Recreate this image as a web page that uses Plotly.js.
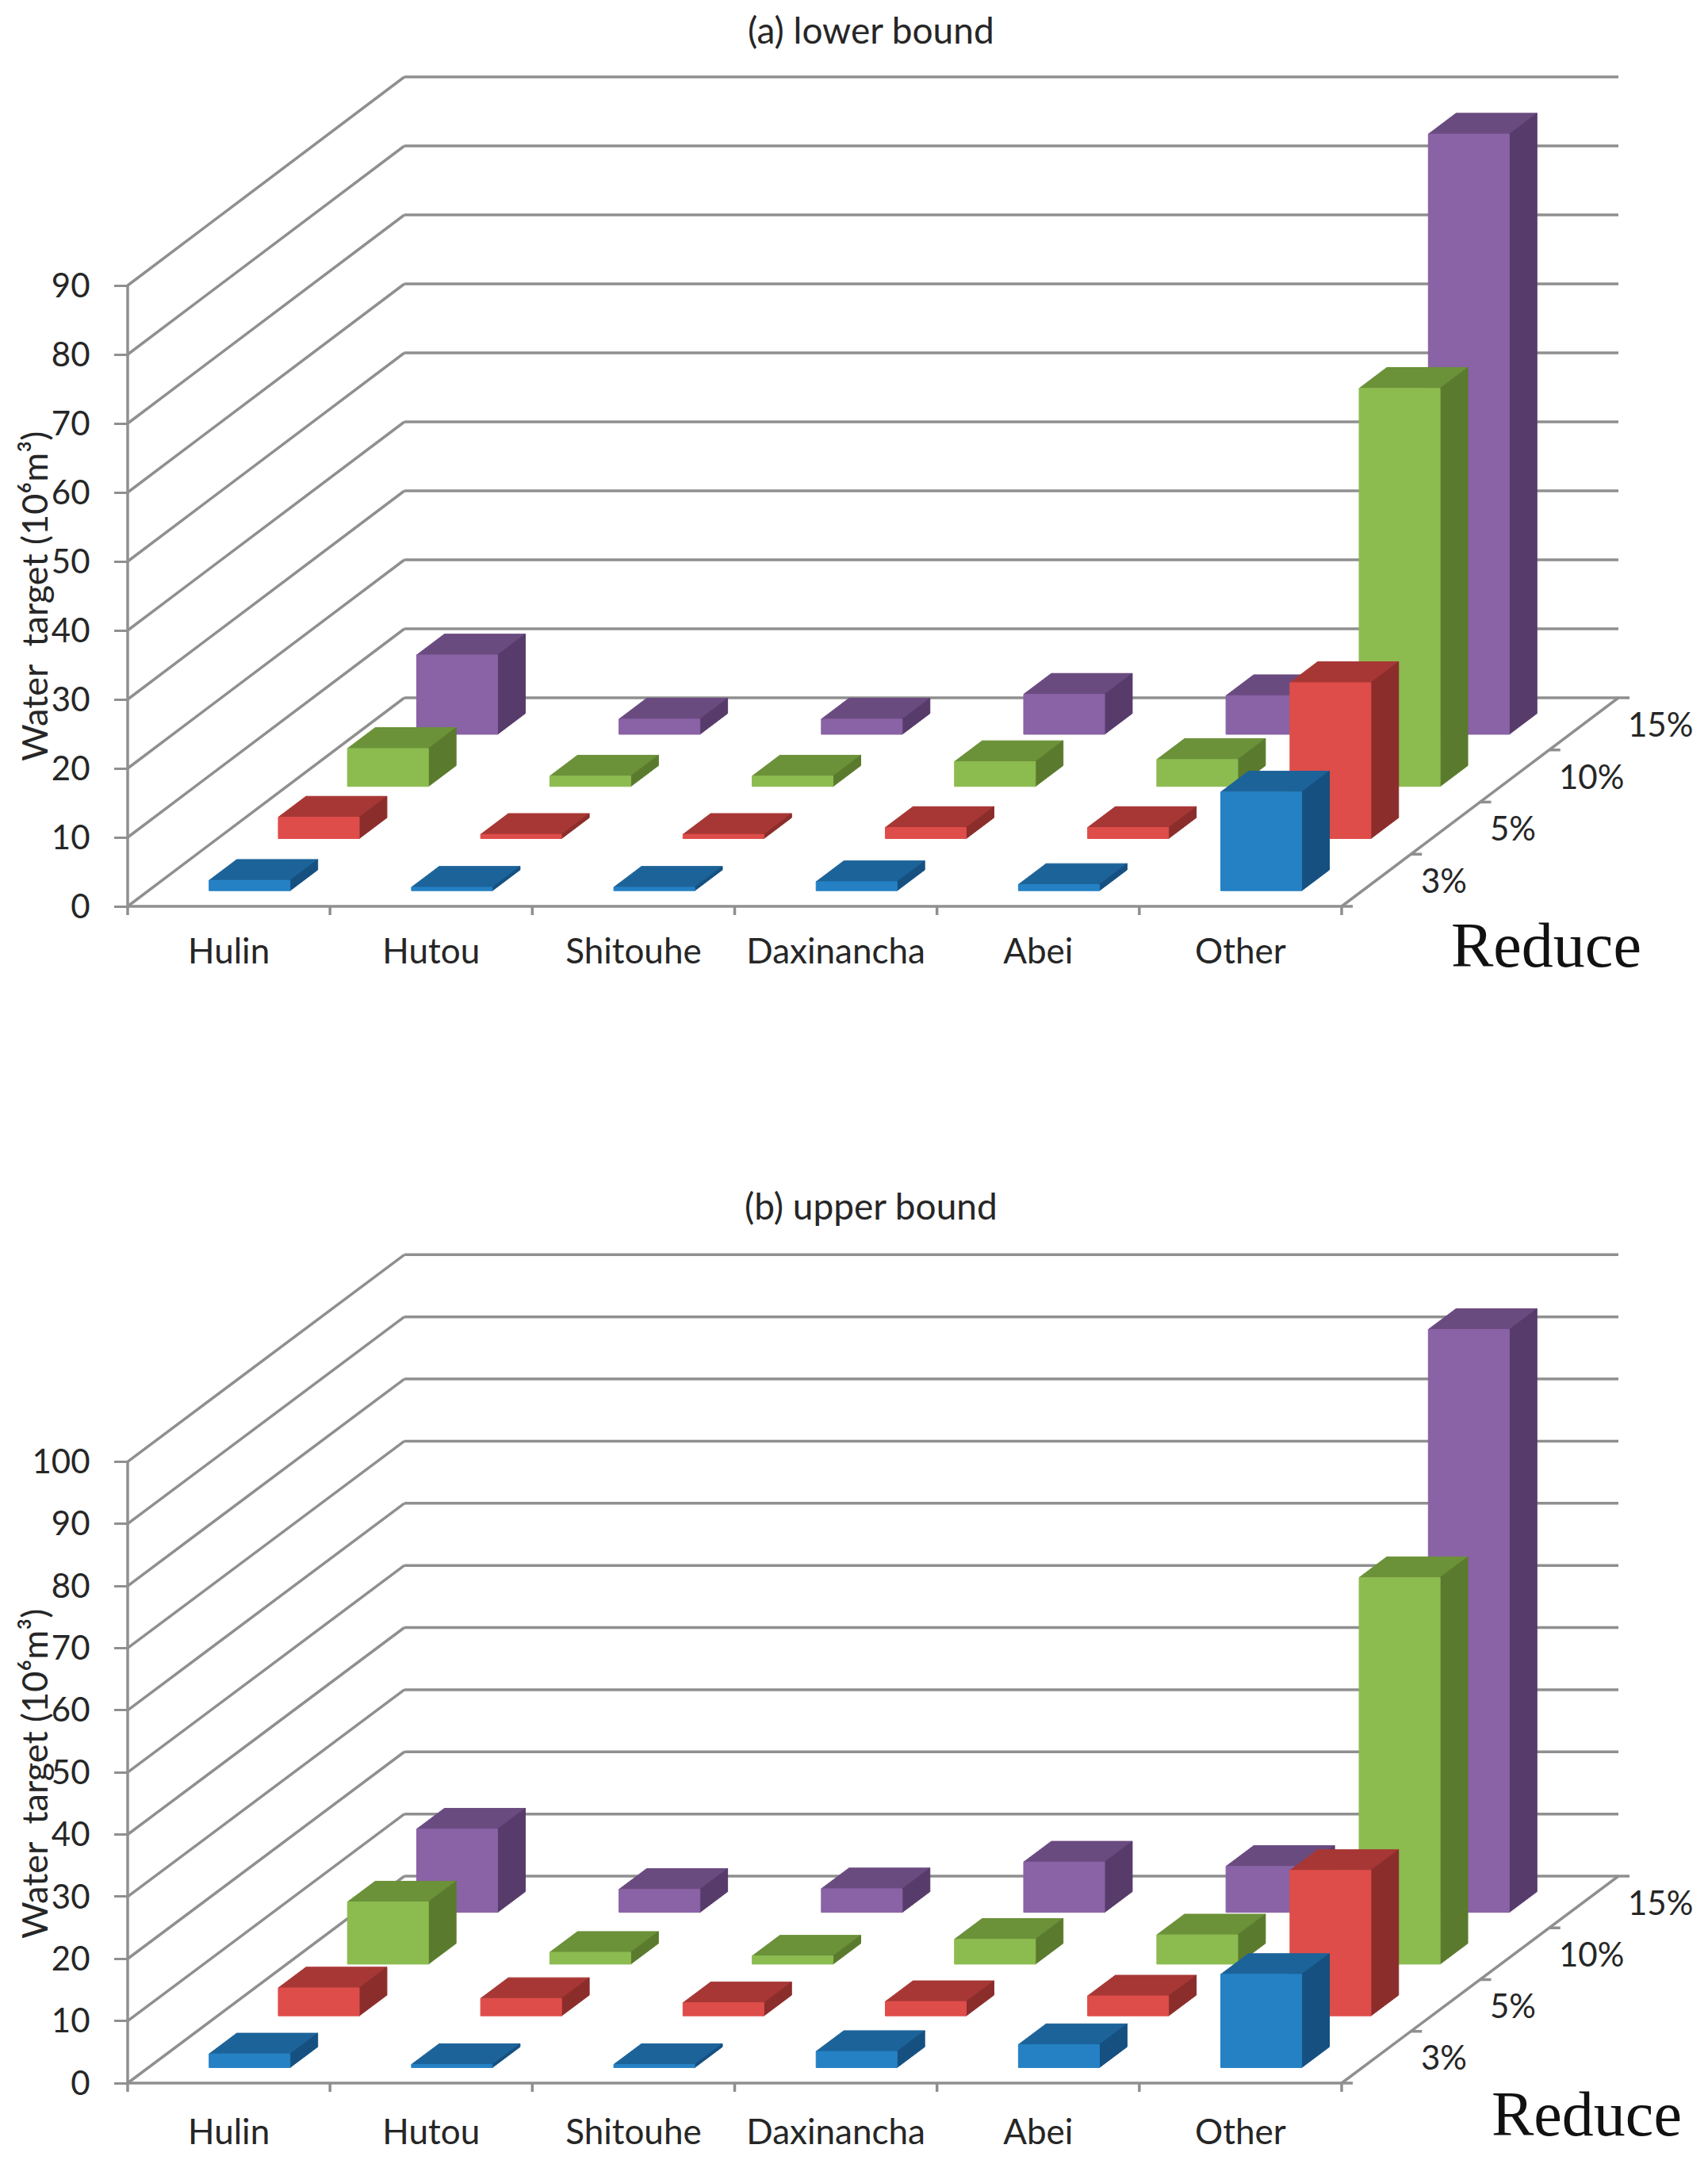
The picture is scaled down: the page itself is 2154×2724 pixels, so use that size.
<!DOCTYPE html>
<html>
<head>
<meta charset="utf-8">
<script src="https://cdn.plot.ly/plotly-3.0.1.min.js"></script>
<style>html,body{margin:0;padding:0;background:#ffffff;}</style>
</head>
<body>
<div id="chart" style="width:2154px;height:2724px"></div>
<script>
// ---------------- data ----------------
const categories = ['Hulin', 'Hutou', 'Shitouhe', 'Daxinancha', 'Abei', 'Other'];
const reduceLevels = ['3%', '5%', '10%', '15%'];

// (a) lower bound, water target (10^6 m^3)
const lower3  = [1.5, 0.5, 0.5, 1.3, 0.9, 14.3];
const lower5  = [3.1, 0.6, 0.6, 1.6, 1.6, 22.6];
const lower10 = [5.5, 1.5, 1.5, 3.6, 3.9, 57.7];
const lower15 = [11.5, 2.2, 2.2, 5.8, 5.6, 87.0];

// (b) upper bound
const upper3  = [2.2, 0.5, 0.5, 2.6, 3.7, 15.0];
const upper5  = [4.5, 2.8, 2.1, 2.3, 3.2, 23.4];
const upper10 = [10.0, 1.9, 1.3, 4.0, 4.7, 62.2];
const upper15 = [13.4, 3.7, 3.8, 8.1, 7.4, 93.8];

const yTicksLower = [0, 10, 20, 30, 40, 50, 60, 70, 80, 90];
const yTicksUpper = [0, 10, 20, 30, 40, 50, 60, 70, 80, 90, 100];

// ---------------- style ----------------
const W = 2154, H = 2724;
const FONT = 'Lato, "Open Sans", "Noto Sans", sans-serif';
const GRID = '#8f8f8f';
const faceColors = [
  {front: '#2581C4', top: '#1C6399', side: '#155081'},   // 3%
  {front: '#DE4D4A', top: '#A73735', side: '#8B2D2B'},   // 5%
  {front: '#8CBB50', top: '#6B9139', side: '#5A7B2E'},   // 10%
  {front: '#8A62A6', top: '#6A4B80', side: '#573B6B'}    // 15%
];

// projection geometry in pixels (front plane + oblique depth)
const X0PX = 161, CATW = (1692 - 161) / 6, SLOTDX = 87.25;
const KX = SLOTDX / CATW;               // depth shift per slot, in category units
const BARW = 0.4, BARD = 0.4;           // bar width / depth (gap 150%)

const panels = [
  {series: [lower3, lower5, lower10, lower15], ticks: yTicksLower,
   xa: 'x', ya: 'y', floorPx: 1143, vScale: 8.70, slotDy: 65.75, dom: [0, 1362],
   title: '(a) lower bound', titleY: 37, axTitleY: 752, reduce: [1950, 1192], catStandoff: 27},
  {series: [upper3, upper5, upper10, upper15], ticks: yTicksUpper,
   xa: 'x2', ya: 'y2', floorPx: 2627, vScale: 7.837, slotDy: 65.25, dom: [1362, 2724],
   title: '(b) upper bound', titleY: 1520, axTitleY: 2237, reduce: [2001, 2666], catStandoff: 32}
];

const traces = [];
const annotations = [];
const layout = {
  width: W, height: H, autosize: false,
  margin: {l: 0, r: 0, t: 0, b: 0, pad: 0},
  paper_bgcolor: '#ffffff', plot_bgcolor: 'rgba(0,0,0,0)',
  showlegend: false, hovermode: false,
  annotations: annotations
};

const nCat = categories.length, nDepth = reduceLevels.length;

panels.forEach((p, pi) => {
  const KY = p.slotDy / p.vScale;       // depth shift per slot, in value units
  const P = (c, d, v) => [c + d * KX, v + d * KY];
  const sfx = pi === 0 ? '' : '2';

  // ---- axes ----
  const xr = [(0 - X0PX) / CATW, (W - X0PX) / CATW];
  const yr = [(p.floorPx - p.dom[1]) / p.vScale, (p.floorPx - p.dom[0]) / p.vScale];
  layout['xaxis' + sfx] = {
    domain: [0, 1], range: xr, anchor: 'free', position: 1 - p.floorPx / H,
    tickmode: 'array', tickvals: categories.map((_, i) => i + 0.5), ticktext: categories,
    ticks: '', ticklabelstandoff: p.catStandoff, showline: false, showgrid: false, zeroline: false,
    tickfont: {family: FONT, size: 44, color: '#262626'}, fixedrange: true
  };
  layout['yaxis' + sfx] = {
    domain: [1 - p.dom[1] / H, 1 - p.dom[0] / H], range: yr, anchor: 'free',
    position: X0PX / W, tickmode: 'array', tickvals: p.ticks,
    ticktext: p.ticks.map(String), ticks: 'outside', ticklen: 17, tickwidth: 3,
    tickcolor: GRID, ticklabelstandoff: 22, showline: false, showgrid: false,
    zeroline: false, tickfont: {family: FONT, size: 42, color: '#262626'}, fixedrange: true
  };

  // ---- walls, floor, axis lines ----
  const lx = [], ly = [];
  const seg = (a, b) => { lx.push(a[0], b[0], null); ly.push(a[1], b[1], null); };
  p.ticks.forEach(v => {
    seg(P(0, 0, v), P(0, nDepth, v));                 // left wall
    seg(P(0, nDepth, v), P(nCat, nDepth, v));         // back wall
  });
  const vmax = p.ticks[p.ticks.length - 1];
  seg(P(0, 0, 0), P(0, 0, vmax));                     // value axis line
  seg(P(0, 0, 0), P(nCat, 0, 0));                     // front floor edge
  seg(P(nCat, 0, 0), P(nCat, nDepth, 0));             // depth axis
  for (let i = 0; i <= nCat; i++) seg(P(i, 0, 0), P(i, 0, -11 / p.vScale));
  for (let d = 0; d <= nDepth; d++) {
    const a = P(nCat, d, 0);
    seg(a, [a[0] + 14 / CATW, a[1]]);
  }
  traces.push({type: 'scatter', mode: 'lines', x: lx, y: ly, xaxis: p.xa, yaxis: p.ya,
    line: {color: GRID, width: 3.5}, hoverinfo: 'skip'});

  // ---- bars, painted from the back row to the front row ----
  for (let r = nDepth - 1; r >= 0; r--) {
    const vals = p.series[r];
    const d0 = r + (1 - BARD) / 2, d1 = d0 + BARD;
    ['top', 'side', 'front'].forEach(face => {
      const fx = [], fy = [];
      vals.forEach((v, i) => {
        const c0 = i + (1 - BARW) / 2, c1 = c0 + BARW;
        let pts;
        if (face === 'top') pts = [P(c0, d0, v), P(c1, d0, v), P(c1, d1, v), P(c0, d1, v)];
        else if (face === 'side') pts = [P(c1, d0, 0), P(c1, d1, 0), P(c1, d1, v), P(c1, d0, v)];
        else pts = [P(c0, d0, 0), P(c1, d0, 0), P(c1, d0, v), P(c0, d0, v)];
        pts.forEach(q => { fx.push(q[0]); fy.push(q[1]); });
        fx.push(pts[0][0], null); fy.push(pts[0][1], null);
      });
      const col = faceColors[r][face];
      traces.push({type: 'scatter', mode: 'lines', x: fx, y: fy, xaxis: p.xa, yaxis: p.ya,
        fill: 'toself', fillcolor: col, line: {color: col, width: 1},
        hoverinfo: 'skip', name: reduceLevels[r] + ' ' + face});
    });
  }

  // ---- depth labels ----
  reduceLevels.forEach((lab, d) => {
    const q = P(nCat, d + 0.5, 0);
    annotations.push({xref: p.xa, yref: p.ya, x: q[0], y: q[1], text: lab,
      showarrow: false, xanchor: 'left', yanchor: 'middle', xshift: 54,
      font: {family: FONT, size: 42, color: '#262626'}});
  });

  // ---- titles ----
  annotations.push({xref: 'paper', yref: 'paper', x: 1098 / W, y: 1 - p.titleY / H,
    text: p.title, showarrow: false, xanchor: 'center', yanchor: 'middle',
    font: {family: FONT, size: 46, color: '#262626'}});
  annotations.push({xref: 'paper', yref: 'paper', x: 43 / W, y: 1 - p.axTitleY / H,
    text: 'Water  target (10⁶m³)', textangle: -90, showarrow: false,
    xanchor: 'center', yanchor: 'middle',
    font: {family: FONT, size: 45, color: '#262626'}});
  annotations.push({xref: 'paper', yref: 'paper', x: p.reduce[0] / W, y: 1 - p.reduce[1] / H,
    text: 'Reduce', showarrow: false, xanchor: 'center', yanchor: 'middle',
    font: {family: '"Liberation Serif", "DejaVu Serif", serif', size: 80, color: '#111111'}});
});

Plotly.newPlot('chart', traces, layout, {staticPlot: true, displayModeBar: false});
</script>
</body>
</html>
